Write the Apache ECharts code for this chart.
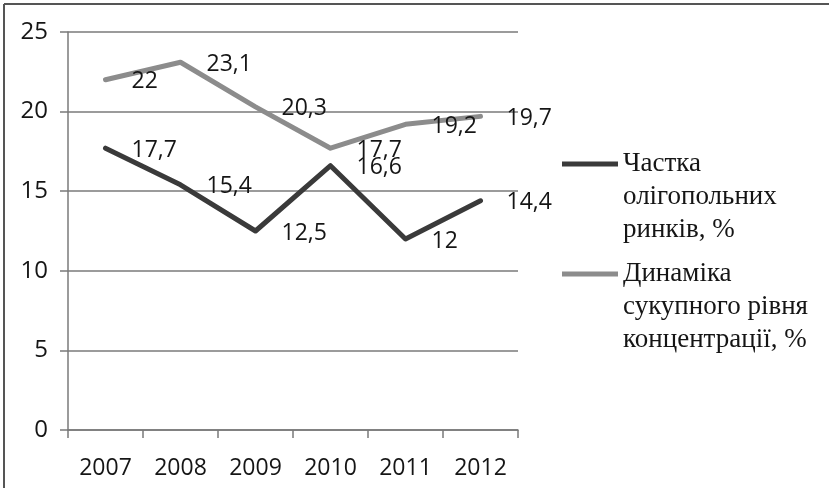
<!DOCTYPE html>
<html>
<head>
<meta charset="utf-8">
<script src="https://cdn.jsdelivr.net/npm/echarts@6/dist/echarts.min.js"></script>
<style>html,body{margin:0;padding:0;background:#fff}#c{width:829px;height:488px}</style>
</head>
<body>
<div id="c"></div>
<script>
var categories = ['2007', '2008', '2009', '2010', '2011', '2012'];
var shareOligopoly = [17.7, 15.4, 12.5, 16.6, 12, 14.4];
var concentration = [22, 23.1, 20.3, 17.7, 19.2, 19.7];
var seriesNames = ['Частка олігопольних ринків, %', 'Динаміка сукупного рівня концентрації, %'];
var legendLines = ['Частка\nолігопольних\nринків, %', 'Динаміка\nсукупного рівня\nконцентрації, %'];
var yTicks = [0, 5, 10, 15, 20, 25];

var chart = echarts.init(document.getElementById('c'), null, {renderer: 'canvas'});
var sansFont = '"Open Sans", "Liberation Sans", sans-serif';
var serifFont = '"Liberation Serif", "Times New Roman", serif';
var colors = ['#3a3a3a', '#8c8c8c'];

function fmt(v) { return String(v).replace('.', ','); }

function mkSeries(name, data, color) {
  return {
    name: name,
    type: 'line',
    data: data,
    symbol: 'circle',
    symbolSize: 0.1,
    showSymbol: true,
    lineStyle: {color: color, width: 5, cap: 'round', join: 'round'},
    itemStyle: {color: color},
    label: {
      show: true,
      position: 'right',
      distance: 26,
      offset: [0, 2],
      formatter: function (p) { return fmt(p.value); },
      fontFamily: sansFont,
      fontSize: 23,
      color: '#151515'
    },
    emphasis: {disabled: true},
    animation: false
  };
}

function mkLegend(i, iconY) {
  var L = 33;
  return {
    orient: 'vertical',
    left: 557,
    top: iconY - 5 * L / 2 - 5,
    padding: 5,
    data: [seriesNames[i]],
    icon: 'rect',
    itemWidth: 56,
    itemHeight: 5,
    selectedMode: false,
    formatter: function () { return '\u00a0\n\u00a0\n' + legendLines[i]; },
    textStyle: {
      fontFamily: serifFont,
      fontSize: 27,
      lineHeight: L,
      color: '#151515'
    }
  };
}

chart.setOption({
  backgroundColor: '#fff',
  animation: false,
  grid: {left: 68, right: 311, top: 32, bottom: 58, containLabel: false},
  legend: [mkLegend(0, 164), mkLegend(1, 274)],
  xAxis: {
    type: 'category',
    data: categories,
    boundaryGap: true,
    axisLine: {show: true, lineStyle: {color: '#7a7a7a', width: 1.5}},
    axisTick: {show: true, length: 8, inside: false, lineStyle: {color: '#7a7a7a', width: 1.5}},
    axisLabel: {fontFamily: sansFont, fontSize: 23, color: '#151515', margin: 27}
  },
  yAxis: {
    type: 'value',
    min: yTicks[0],
    max: yTicks[yTicks.length - 1],
    interval: 5,
    axisLine: {show: true, lineStyle: {color: '#7a7a7a', width: 1.5}},
    axisTick: {show: true, length: 8, inside: false, lineStyle: {color: '#7a7a7a', width: 1.5}},
    splitLine: {show: true, lineStyle: {color: '#7a7a7a', width: 1.5}},
    axisLabel: {fontFamily: sansFont, fontSize: 24, color: '#151515', margin: 20}
  },
  series: [
    mkSeries(seriesNames[0], shareOligopoly, colors[0]),
    mkSeries(seriesNames[1], concentration, colors[1])
  ],
  graphic: [
    {type: 'line', shape: {x1: 4, y1: 4, x2: 829, y2: 4}, style: {stroke: '#555', lineWidth: 2}, silent: true},
    {type: 'line', shape: {x1: 4, y1: 4, x2: 4, y2: 488}, style: {stroke: '#555', lineWidth: 2}, silent: true}
  ]
});
</script>
</body>
</html>
